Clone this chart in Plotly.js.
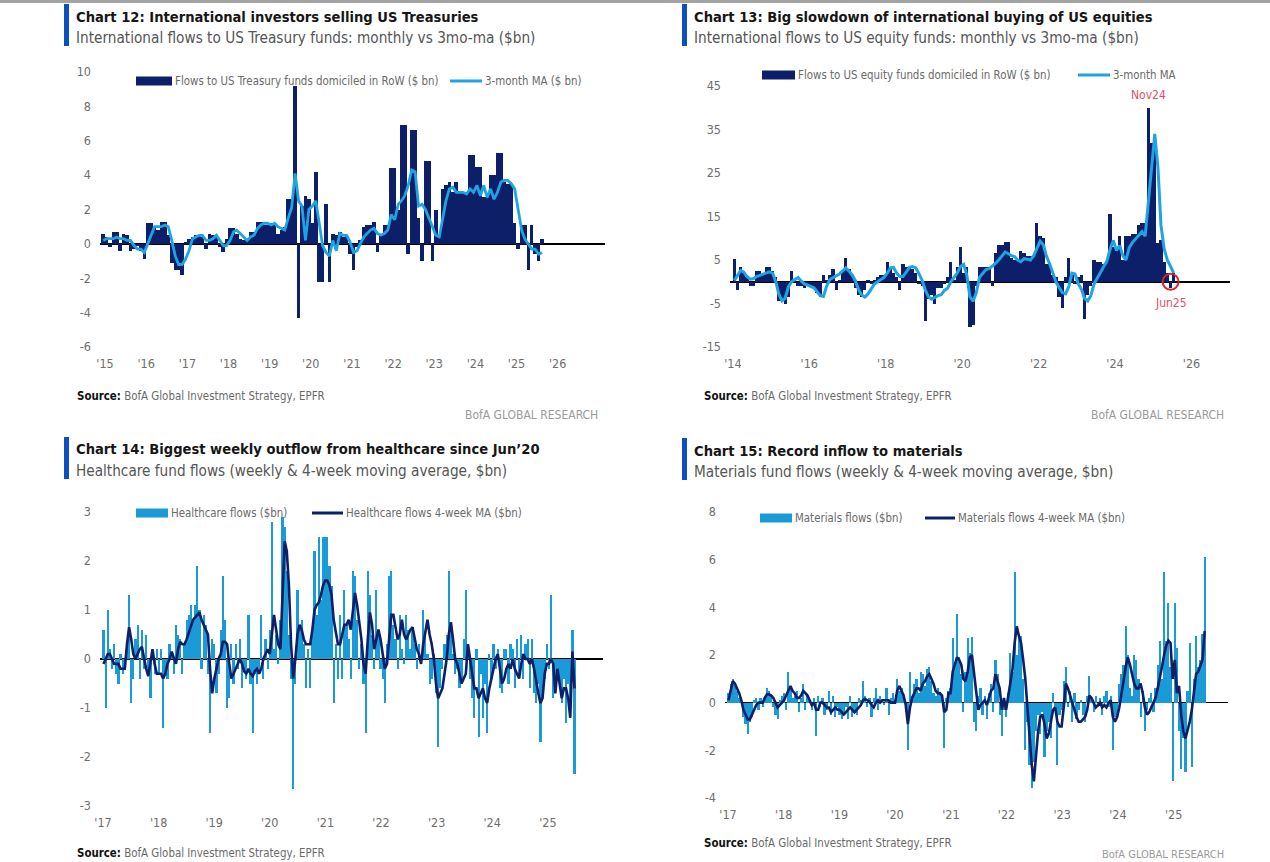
<!DOCTYPE html>
<html><head><meta charset="utf-8">
<script src="https://cdn.plot.ly/plotly-3.0.1.min.js"></script>
<style>html,body{margin:0;padding:0;background:#fff;}#chart{width:1270px;height:862px;}</style>
</head><body><div id="chart"></div>
<script>
// ---------------- DATA ----------------
// Chart 12: monthly flows to US Treasury funds domiciled in RoW ($bn), from Dec 2014
const c12Start = [2014, 12];
const c12Flows = [
 0.6,0.4,-0.2,0.7,0.7,-0.4,0.6,0.5,-0.4,-0.3,-0.1,-0.4,
 -0.9,1.2,1.2,0.9,0.8,1.3,1.3,0.5,-1.1,-1.5,-1.5,
 -1.8,0.1,0.3,0.4,0.5,0.5,0.4,-0.3,0.6,0.5,0.4,-0.2,
 -0.5,0.3,0.9,0.9,0.6,0.3,0.2,0.2,0.7,0.7,1.3,1.3,
 1.1,1.1,1.2,1.2,0.6,0.8,1.0,2.6,2.6,9.2,-4.3,2.2,
 2.8,2.6,1.2,4.2,-2.2,-2.2,2.3,-2.2,0.6,0.5,0.7,0.4,
 0.5,-0.6,-1.5,-0.2,0.2,1.0,1.1,1.1,1.3,-0.5,0.5,1.1,
 1.1,4.4,4.4,2.0,6.9,6.9,-0.6,6.6,6.6,1.5,-1.0,4.8,
 4.8,-1.0,2.0,0.5,3.2,3.4,3.6,3.0,3.6,3.0,3.0,
 3.0,5.2,5.2,4.5,4.5,2.7,2.7,4.0,4.0,5.3,5.3,3.6,3.5,3.5,
 1.2,-0.3,1.1,1.1,-1.5,1.1,-0.6,-1.0,0.3];
const c12MA = [
 0.2,0.3,0.3,0.3,0.4,0.3,0.3,0.2,0.2,-0.1,-0.3,-0.3,
 -0.5,0.0,0.5,1.0,1.0,1.0,1.1,1.0,0.2,-0.7,-1.2,
 -1.2,-0.9,-0.4,0.3,0.4,0.5,0.5,0.2,0.2,0.3,0.5,0.2,
 -0.1,-0.1,0.2,0.7,0.8,0.6,0.4,0.2,0.4,0.5,0.9,1.1,
 1.2,1.2,1.1,1.2,1.0,0.9,0.8,1.5,2.1,4.1,2.5,2.2,
 0.2,2.0,2.2,2.5,1.1,-0.1,-0.5,-0.7,0.2,-0.4,0.6,0.5,
 0.5,0.1,-0.5,-0.4,0.0,0.4,0.6,0.8,0.9,0.6,0.5,0.6,
 0.8,1.7,1.4,2.3,2.5,2.8,3.4,4.3,4.2,2.2,2.3,2.0,
 1.5,1.0,0.5,0.4,1.4,2.5,3.2,3.3,3.0,3.0,3.0,
 2.9,3.2,3.0,3.4,2.8,3.4,2.7,3.2,2.6,3.0,3.6,3.7,3.7,3.5,
 3.2,2.0,0.8,0.3,0.0,-0.3,-0.3,-0.6,-0.5];
const c12Years = [2015,2016,2017,2018,2019,2020,2021,2022,2023,2024,2025,2026];
const c12YTicks = [-6,-4,-2,0,2,4,6,8,10];

// Chart 13: monthly flows to US equity funds domiciled in RoW ($bn), from Jan 2014
const c13Start = [2014, 1];
const c13Flows = [
 5.2,-2.0,3.5,2.5,1.0,-1.0,-1.0,2.5,2.5,1.5,3.5,3.5,
 2.5,1.0,-4.5,-4.5,-5.2,-3.5,2.5,0.5,-1.0,-1.0,-1.5,-0.5,
 -1.0,-1.5,-2.5,-3.5,1.5,0.5,1.5,3.0,-2.0,0.5,2.5,5.5,
 3.0,1.5,-1.5,-3.0,-3.5,-2.0,0.5,-0.5,0.5,1.0,1.5,1.5,
 4.5,3.0,2.0,1.0,-2.0,4.0,3.5,3.5,3.0,2.0,-0.5,-1.0,
 -9.0,-4.0,-3.0,-5.0,-1.5,-1.5,-0.5,1.0,4.5,0.5,3.5,8.0,
 2.0,3.5,-10.5,-10.0,-1.0,3.5,3.5,3.5,3.5,-1.0,6.5,8.5,
 8.5,9.2,9.2,5.5,5.0,5.0,7.0,6.5,6.0,6.0,6.0,13.5,
 10.5,10.0,4.0,4.0,1.5,1.0,-3.5,-6.0,1.0,5.5,1.5,-0.5,
 1.0,1.5,-8.5,-3.0,-1.0,5.0,4.5,4.5,4.0,4.5,15.5,8.0,
 8.0,10.5,5.0,10.5,10.5,11.0,11.0,13.0,13.5,13.5,40.0,32.0,
 31.0,9.0,9.5,4.5,2.0,-1.5,2.0];
const c13MA = [
 0.3,1.5,2.6,2.2,1.2,0.6,0.7,1.2,1.5,1.8,2.1,2.3,
 2.0,0.0,-2.8,-4.4,-3.8,-1.2,0.0,0.5,1.0,0.2,-0.5,-0.8,
 -1.1,-1.4,-2.3,-3.2,-3.4,-1.0,0.5,1.0,1.3,1.8,2.5,3.2,
 2.4,1.5,0.3,-1.8,-3.0,-3.5,-2.8,-1.5,-0.5,0.0,0.5,1.0,
 2.0,3.2,3.3,2.0,1.2,1.2,2.2,3.3,3.5,3.2,1.8,0.3,
 -2.0,-3.5,-4.0,-3.6,-3.2,-3.0,-2.0,-1.5,0.0,1.0,2.0,3.5,
 4.0,1.5,-3.5,-4.5,-2.5,1.0,2.0,2.8,3.0,3.5,4.2,5.0,
 5.8,6.8,6.5,6.0,5.8,5.0,4.6,5.3,5.2,5.0,6.0,7.5,
 9.3,8.5,6.0,4.2,2.0,0.0,-1.3,-2.5,-2.8,-1.2,2.0,1.8,
 -0.5,-1.8,-3.8,-4.4,-3.2,-0.5,0.8,2.3,3.5,4.7,7.5,9.5,
 7.2,8.3,6.0,5.0,7.8,9.0,9.8,10.6,11.5,10.5,18.0,27.0,
 34.0,26.0,13.0,7.5,5.0,3.5,2.0];
const c13Years = [2014,2016,2018,2020,2022,2024,2026];
const c13YTicks = [-15,-5,5,15,25,35,45];
const c13PeakLabel = "Nov24", c13PeakMonth = "2024-11";
const c13LowLabel = "Jun25", c13LowMonth = "2025-06";

// Chart 14: healthcare fund flows ($bn), sampled every 2 weeks from 4 Jan 2017
const c14Start = "2017-01-04";
const c14Flows = [
 0.6,-1.0,1.0,0.2,-0.2,0.3,-0.3,-0.5,0.1,-0.3,-0.2,0.3,1.3,-0.9,-0.4,0.4,0.7,-0.4,0.6,-0.2,0.5,-0.3,-0.8,0.1,-0.3,0.2,
 -0.3,0.2,-1.4,-0.3,-0.4,0.3,0.1,-0.3,0.7,0.5,0.4,-0.3,0.3,0.8,0.9,1.1,0.8,1.1,1.9,1.0,-0.2,0.9,0.7,-0.3,-1.5,0.4,
 0.3,-0.7,-0.3,0.6,1.7,0.8,-1.0,-0.8,0.3,-0.5,0.3,-0.2,0.4,-0.6,-0.2,-0.4,0.9,-0.5,-1.5,-0.3,-0.5,-0.3,0.9,-0.4,0.4,-0.2,
 0.6,2.8,0.2,0.5,-0.1,0.8,2.9,2.7,1.8,0.5,-0.4,-2.65,-0.5,1.4,0.7,0.8,0.3,-0.6,0.2,-0.6,0.5,2.2,0.9,2.5,1.2,2.5,
 2.5,2.5,1.9,1.5,-0.9,0.3,-0.4,0.9,-0.4,1.4,0.7,0.4,-0.4,1.8,1.7,0.8,-0.2,0.3,-0.5,-1.5,1.8,1.3,0.5,-0.2,1.4,0.6,
 -0.2,-0.4,-0.9,0.3,1.7,1.8,0.7,0.4,-0.2,0.9,0.2,-0.1,0.9,0.6,0.2,0.6,0.3,-0.2,0.3,-0.1,1.0,0.5,0.1,-0.5,-0.4,0.1,
 -0.7,-1.8,-0.6,-0.2,0.3,0.5,1.8,0.6,0.1,-0.3,-0.2,-0.6,-0.5,0.4,1.4,0.3,-0.4,-0.8,-1.2,0.2,-1.6,-0.3,-1.2,-0.5,-1.5,0.1,
 -0.4,0.3,-0.2,0.2,-0.6,-0.7,0.2,0.2,-0.5,0.3,0.2,-0.6,0.4,-0.3,0.5,-0.4,0.3,0.4,-0.6,0.4,-0.7,-0.9,-0.5,-1.7,-0.6,-0.4,
 0.3,-0.2,1.3,-0.8,-0.6,-0.3,-0.5,-0.9,-0.4,-1.3,-0.5,-0.9,0.6,-2.35];
const c14MA = [
 -0.1,0.0,0.1,0.1,0.0,-0.1,-0.1,-0.1,-0.2,-0.2,-0.2,0.3,0.65,0.4,0.1,0.0,0.1,0.2,0.25,0.0,-0.2,-0.35,-0.1,0.2,-0.1,-0.3,
 -0.3,-0.3,-0.4,-0.3,-0.1,0.0,0.15,0.0,-0.1,0.2,0.35,0.3,0.3,0.4,0.55,0.7,0.8,0.85,0.9,0.95,0.8,0.7,0.6,0.5,-0.2,-0.7,
 -0.4,-0.2,0.0,0.1,0.35,0.35,0.3,-0.1,-0.4,-0.3,-0.2,-0.1,0.0,-0.1,-0.25,-0.3,-0.2,-0.3,-0.35,-0.25,-0.2,-0.3,-0.2,0.0,0.1,0.2,
 0.1,0.5,0.9,0.6,0.3,0.2,1.2,2.4,2.2,1.5,0.3,-0.4,0.0,0.5,0.7,0.6,0.4,0.3,0.3,0.3,0.6,1.0,1.1,1.15,1.3,1.5,
 1.6,1.6,1.5,1.3,0.8,0.5,0.3,0.3,0.5,0.7,0.7,0.8,0.6,1.0,1.35,1.1,0.8,0.4,-0.1,-0.3,0.4,0.95,0.7,0.2,0.4,0.6,
 0.4,0.1,-0.2,-0.1,0.5,0.9,0.9,0.6,0.4,0.5,0.8,0.5,0.4,0.5,0.6,0.65,0.4,0.2,0.1,-0.1,0.3,0.6,0.8,0.5,0.3,0.0,
 -0.5,-0.8,-0.7,-0.6,-0.3,0.0,0.5,0.75,0.4,0.0,-0.1,-0.3,-0.5,-0.4,-0.3,0.3,0.0,-0.3,-0.6,-0.6,-0.8,-0.7,-0.6,-0.8,-0.9,-0.6,
 -0.4,-0.2,0.0,0.1,-0.2,-0.5,-0.4,-0.2,-0.1,-0.2,0.0,-0.2,-0.3,-0.4,-0.1,0.1,0.0,0.0,-0.1,0.0,-0.2,-0.5,-0.7,-0.9,-0.8,-0.3,
 -0.1,-0.1,0.0,-0.1,-0.7,-0.2,-0.5,-0.8,-0.6,-0.6,-0.8,-1.2,0.15,-0.6];
const c14Years = [2017,2018,2019,2020,2021,2022,2023,2024,2025];
const c14YTicks = [-3,-2,-1,0,1,2,3];

// Chart 15: materials fund flows ($bn), sampled every 2 weeks from 4 Jan 2017
const c15Start = "2017-01-04";
const c15Flows = [
 0.4,0.8,1.0,0.7,0.5,0.2,0.1,-0.6,-0.9,-1.3,-0.8,-0.6,0.1,0.2,-0.3,0.2,-0.2,0.3,0.6,0.5,0.3,-0.2,-0.5,-0.7,0.1,0.3,
 0.4,-0.3,1.3,0.6,0.2,0.3,0.5,-0.4,0.2,0.8,-0.3,0.3,0.0,-0.3,0.2,-1.4,0.3,-0.2,0.2,-0.5,-0.3,0.5,-0.5,0.3,-0.6,-0.2,
 -0.5,-0.7,-0.4,-0.2,-0.7,0.3,-0.6,-0.3,-0.5,0.2,0.1,0.9,0.3,-0.2,0.2,-0.6,0.2,0.6,-0.3,0.3,0.1,-0.1,0.6,-0.5,0.2,0.4,
 0.1,1.0,0.5,0.6,0.3,-0.4,-2.0,1.3,0.3,0.8,1.0,0.4,1.3,1.2,0.7,1.4,1.5,0.9,0.4,0.3,0.6,0.4,0.2,-1.9,0.2,0.5,
 0.6,2.7,1.6,3.7,1.9,1.2,-0.4,1.3,2.7,2.1,2.75,-0.8,-1.2,0.3,0.6,-0.5,0.3,-0.7,0.4,0.8,-0.4,1.8,1.2,-0.5,-1.4,-0.3,
 -0.6,0.4,2.1,1.3,5.5,2.0,2.9,2.8,1.0,-2.0,-0.8,-2.6,-3.6,-2.5,-1.2,-0.5,-1.3,-0.4,-2.3,-1.2,-0.8,-1.5,0.4,-0.3,-2.6,-0.5,
 -0.3,0.9,1.5,-0.2,0.5,-0.8,0.4,-0.7,-0.3,0.1,-0.5,-0.8,0.3,1.1,0.2,-0.4,0.3,-0.2,0.2,-0.5,0.3,0.5,-0.2,0.3,-2.0,-0.6,
 -0.5,0.8,1.2,1.6,3.2,2.0,0.6,0.3,2.0,1.8,1.0,-0.6,0.5,-1.2,-0.3,0.2,0.4,-0.4,0.6,1.6,2.6,1.0,5.5,2.6,4.2,1.5,
 -3.3,4.2,2.3,-1.2,-2.8,-1.5,-2.9,0.5,2.5,-2.7,1.0,2.8,1.5,1.8,2.9,6.1];
const c15MA = [
 0.1,0.5,0.9,0.8,0.6,0.4,0.1,-0.3,-0.5,-0.7,-0.7,-0.5,-0.3,-0.1,0.0,0.0,0.0,0.2,0.35,0.35,0.3,0.2,0.0,-0.2,-0.1,0.0,
 0.1,0.3,0.5,0.7,0.5,0.4,0.2,0.2,0.3,0.5,0.4,0.3,0.1,-0.1,0.0,-0.3,-0.3,0.0,0.0,-0.1,-0.2,-0.2,-0.4,-0.3,-0.2,-0.3,
 -0.3,-0.4,-0.5,-0.4,-0.3,-0.2,-0.3,-0.4,-0.3,-0.2,-0.1,0.1,0.15,0.1,0.05,-0.1,-0.2,0.0,0.1,0.0,0.1,0.1,0.1,0.1,0.0,0.0,
 0.0,0.5,0.7,0.5,0.3,-0.1,-0.9,-0.2,0.2,0.4,0.6,0.6,0.5,0.8,0.9,1.1,1.2,1.0,0.8,0.5,0.4,0.4,0.3,-0.4,-0.3,0.4,
 0.4,1.3,1.6,1.9,1.8,1.6,1.0,0.9,1.3,1.9,2.0,1.2,0.3,-0.3,-0.1,0.0,0.1,-0.1,0.2,0.5,0.6,1.2,0.9,0.6,-0.3,0.2,
 -0.3,0.3,0.8,1.4,2.5,3.2,2.8,2.5,1.8,1.0,-0.2,-1.5,-2.6,-3.3,-2.2,-1.2,-0.6,-0.5,-0.9,-1.5,-1.3,-0.8,-0.3,-0.2,-0.8,-1.0,
 -1.0,-0.2,0.8,0.6,0.3,-0.1,-0.3,-0.6,-0.8,-0.8,-0.7,-0.6,-0.3,0.3,0.2,0.0,-0.2,-0.1,0.0,-0.2,-0.1,-0.2,0.0,0.1,-0.6,-0.8,
 -0.6,-0.2,0.3,0.9,1.5,1.9,1.6,1.2,0.8,0.6,0.6,0.8,0.4,-0.2,-0.5,-0.4,-0.2,0.0,0.2,0.6,1.0,1.5,2.0,2.4,2.6,2.5,
 1.0,1.8,0.4,0.7,-0.5,-1.2,-1.5,-1.2,-0.8,-0.3,0.5,1.2,1.3,1.6,1.8,3.0];
const c15Years = [2017,2018,2019,2020,2021,2022,2023,2024,2025];
const c15YTicks = [-4,-2,0,2,4,6,8];

// ---------------- HELPERS ----------------
const W = 1270, H = 862;
const PX = x => x / W, PY = y => 1 - y / H;
const FONT = '"Liberation Sans Narrow","Arial Narrow","DejaVu Sans Condensed",sans-serif';
const NAVY = '#0c1f68', LBLUE = '#1ea3e4', BARBLUE = '#1b9ad8', BOFA = '#0b4fc0';
const DAY = 864e5;

function monthDates(start, n) {
  const out = [];
  for (let i = 0; i < n; i++) {
    const mm = start[1] - 1 + i;
    const yy = start[0] + Math.floor(mm / 12);
    out.push(yy + '-' + String(mm % 12 + 1).padStart(2, '0') + '-15');
  }
  return out;
}
function stepDates(start, days, n) {
  const t0 = Date.parse(start + 'T00:00:00Z');
  return Array.from({length: n}, (_, i) => new Date(t0 + i * days * DAY).toISOString().slice(0, 10));
}
const yrLabel = y => "'" + String(y).slice(2);
const tickTxt = v => String(v);

const d12 = monthDates(c12Start, c12Flows.length);
const d13 = monthDates(c13Start, c13Flows.length);
const d14 = stepDates(c14Start, 14, c14Flows.length);
const d15 = stepDates(c15Start, 14, c15Flows.length);

function barTrace(x, y, color, width, ax) {
  return {type: 'bar', x: x, y: y, width: width, marker: {color: color, line: {width: 0}},
    xaxis: 'x' + ax, yaxis: 'y' + ax, showlegend: false, hoverinfo: 'skip'};
}
function lineTrace(x, y, color, w, ax) {
  return {type: 'scatter', mode: 'lines', x: x.slice(0, y.length), y: y, line: {color: color, width: w},
    xaxis: 'x' + ax, yaxis: 'y' + ax, showlegend: false, hoverinfo: 'skip'};
}
const traces = [
  barTrace(d12, c12Flows, NAVY, 31 * DAY, ''),
  lineTrace(d12, c12MA, LBLUE, 2.8, ''),
  barTrace(d13, c13Flows, NAVY, 31 * DAY, '2'),
  lineTrace(d13, c13MA, LBLUE, 3, '2'),
  barTrace(d14, c14Flows, BARBLUE, 14.5 * DAY, '3'),
  lineTrace(d14, c14MA, NAVY, 2.6, '3'),
  barTrace(d15, c15Flows, BARBLUE, 14.5 * DAY, '4'),
  lineTrace(d15, c15MA, NAVY, 2.6, '4')
];

function xAxis(dom, range, years, anchor) {
  return {domain: [PX(dom[0]), PX(dom[1])], anchor: anchor, type: 'date', range: range,
    tickmode: 'array', tickvals: years.map(y => y + '-01-01'), ticktext: years.map(yrLabel),
    showgrid: false, zeroline: false, showline: false, ticks: '', ticklabelstandoff: 7,
    tickfont: {family: FONT, size: 12.5, color: '#6e6e6e'}, fixedrange: true};
}
function yAxis(dom, range, ticks, anchor) {
  return {domain: [PY(dom[1]), PY(dom[0])], anchor: anchor, range: range,
    tickmode: 'array', tickvals: ticks, ticktext: ticks.map(tickTxt),
    showgrid: false, showline: false, ticks: '', ticklabelstandoff: 8,
    zeroline: true, zerolinecolor: '#000', zerolinewidth: 1.6,
    tickfont: {family: FONT, size: 12.5, color: '#6e6e6e'}, fixedrange: true};
}

const ann = [], shp = [];
function txt(x, y, text, size, color, xanchor, opts) {
  ann.push(Object.assign({xref: 'paper', yref: 'paper', x: PX(x), y: PY(y), text: text, showarrow: false,
    xanchor: xanchor || 'left', yanchor: 'middle', font: {family: FONT, size: size, color: color}}, opts || {}));
}
function rect(x0, y0, x1, y1, color) {
  shp.push({type: 'rect', xref: 'paper', yref: 'paper', x0: PX(x0), x1: PX(x1), y0: PY(y1), y1: PY(y0),
    fillcolor: color, line: {width: 0}});
}
function hline(x0, x1, y, color, w) {
  shp.push({type: 'line', xref: 'paper', yref: 'paper', x0: PX(x0), x1: PX(x1), y0: PY(y), y1: PY(y),
    line: {color: color, width: w}});
}

// top frame strip
rect(0, 0, 1270, 3, '#a3a3a3');

// Panel headers
function header(bx, ty, title, sub) {
  rect(bx, ty - 12, bx + 5, ty + 30, BOFA);
  txt(bx + 10, ty, '<b>' + title + '</b>', 14.6, '#161616');
  txt(bx + 10, ty + 22, sub, 15.2, '#555555');
}
header(64, 16, 'Chart 12: International investors selling US Treasuries',
  'International flows to US Treasury funds: monthly vs 3mo-ma ($bn)');
header(682, 16, 'Chart 13: Big slowdown of international buying of US equities',
  'International flows to US equity funds: monthly vs 3mo-ma ($bn)');
header(64, 449, 'Chart 14: Biggest weekly outflow from healthcare since Jun’20',
  'Healthcare fund flows (weekly &amp; 4-week moving average, $bn)');
header(682, 450, 'Chart 15: Record inflow to materials',
  'Materials fund flows (weekly &amp; 4-week moving average, $bn)');

// Legends (drawn)
function legend(y, bx0, bx1, barCol, label1, lx0, lx1, lineCol, label2) {
  rect(bx0, y - 4.5, bx1, y + 4.5, barCol);
  txt(bx1 + 1, y, label1, 11.4, '#6a6a6a');
  hline(lx0, lx1, y, lineCol, 3);
  txt(lx1 + 1, y, label2, 11.4, '#6a6a6a');
}
legend(81, 136, 172, NAVY, 'Flows to US Treasury funds domiciled in RoW ($ bn)', 450, 482, LBLUE, '3-month MA ($ bn)');
legend(75, 762, 795, NAVY, 'Flows to US equity funds domiciled in RoW ($ bn)', 1078, 1110, LBLUE, '3-month MA');
legend(513, 136, 168, BARBLUE, 'Healthcare flows ($bn)', 312, 343, NAVY, 'Healthcare flows 4-week MA ($bn)');
legend(518, 760, 792, BARBLUE, 'Materials flows ($bn)', 925, 955, NAVY, 'Materials flows 4-week MA ($bn)');

// Sources
const SRC = '<b>Source:</b><span style="color:#6a6a6a"> BofA Global Investment Strategy, EPFR</span>';
txt(75, 396, SRC, 11.4, '#111');
txt(702, 396, SRC, 11.4, '#111');
txt(75, 853, SRC, 11.4, '#111');
txt(702, 843, SRC, 11.4, '#111');
txt(600, 415, 'BofA GLOBAL RESEARCH', 12, '#9a9a9a', 'right');
txt(1226, 415, 'BofA GLOBAL RESEARCH', 12, '#9a9a9a', 'right');
txt(1226, 854, 'BofA GLOBAL RESEARCH', 11, '#9a9a9a', 'right');

// Chart 13 callouts
const iPeak = d13.findIndex(d => d.startsWith(c13PeakMonth));
const iLow = d13.findIndex(d => d.startsWith(c13LowMonth));
ann.push({xref: 'x2', yref: 'y2', x: d13[iPeak], y: c13Flows[iPeak], text: c13PeakLabel, showarrow: false,
  yanchor: 'bottom', yshift: 4, font: {family: FONT, size: 12, color: '#e0506b'}});
ann.push({xref: 'x2', yref: 'y2', x: d13[iLow], y: 0, text: c13LowLabel, showarrow: false,
  yanchor: 'top', yshift: -12, font: {family: FONT, size: 12, color: '#e0506b'}});
shp.push({type: 'circle', xref: 'x2', yref: 'y2', xsizemode: 'pixel', ysizemode: 'pixel',
  xanchor: d13[iLow], yanchor: 0, x0: -8, x1: 8, y0: -8, y1: 8, line: {color: '#d8232e', width: 2}});

const layout = {
  width: W, height: H, margin: {l: 0, r: 0, t: 0, b: 0},
  paper_bgcolor: '#fff', plot_bgcolor: 'rgba(0,0,0,0)',
  bargap: 0, barmode: 'overlay', showlegend: false,
  font: {family: FONT},
  xaxis: xAxis([100, 605], ['2014-11-17', '2027-02-25'], c12Years, 'y'),
  yaxis: yAxis([72, 347], [-6, 10], c12YTicks, 'x'),
  xaxis2: xAxis([730, 1230], ['2013-12-04', '2027-01-04'], c13Years, 'y2'),
  yaxis2: yAxis([86, 347], [-15, 45], c13YTicks, 'x2'),
  xaxis3: xAxis([100, 603], ['2016-12-12', '2025-12-29'], c14Years, 'y3'),
  yaxis3: yAxis([512, 806], [-3, 3], c14YTicks, 'x3'),
  xaxis4: xAxis([725, 1228], ['2016-12-12', '2025-12-23'], c15Years, 'y4'),
  yaxis4: yAxis([512, 798], [-4, 8], c15YTicks, 'x4'),
  annotations: ann, shapes: shp
};
Plotly.newPlot('chart', traces, layout, {staticPlot: true, displayModeBar: false});
</script></body></html>
